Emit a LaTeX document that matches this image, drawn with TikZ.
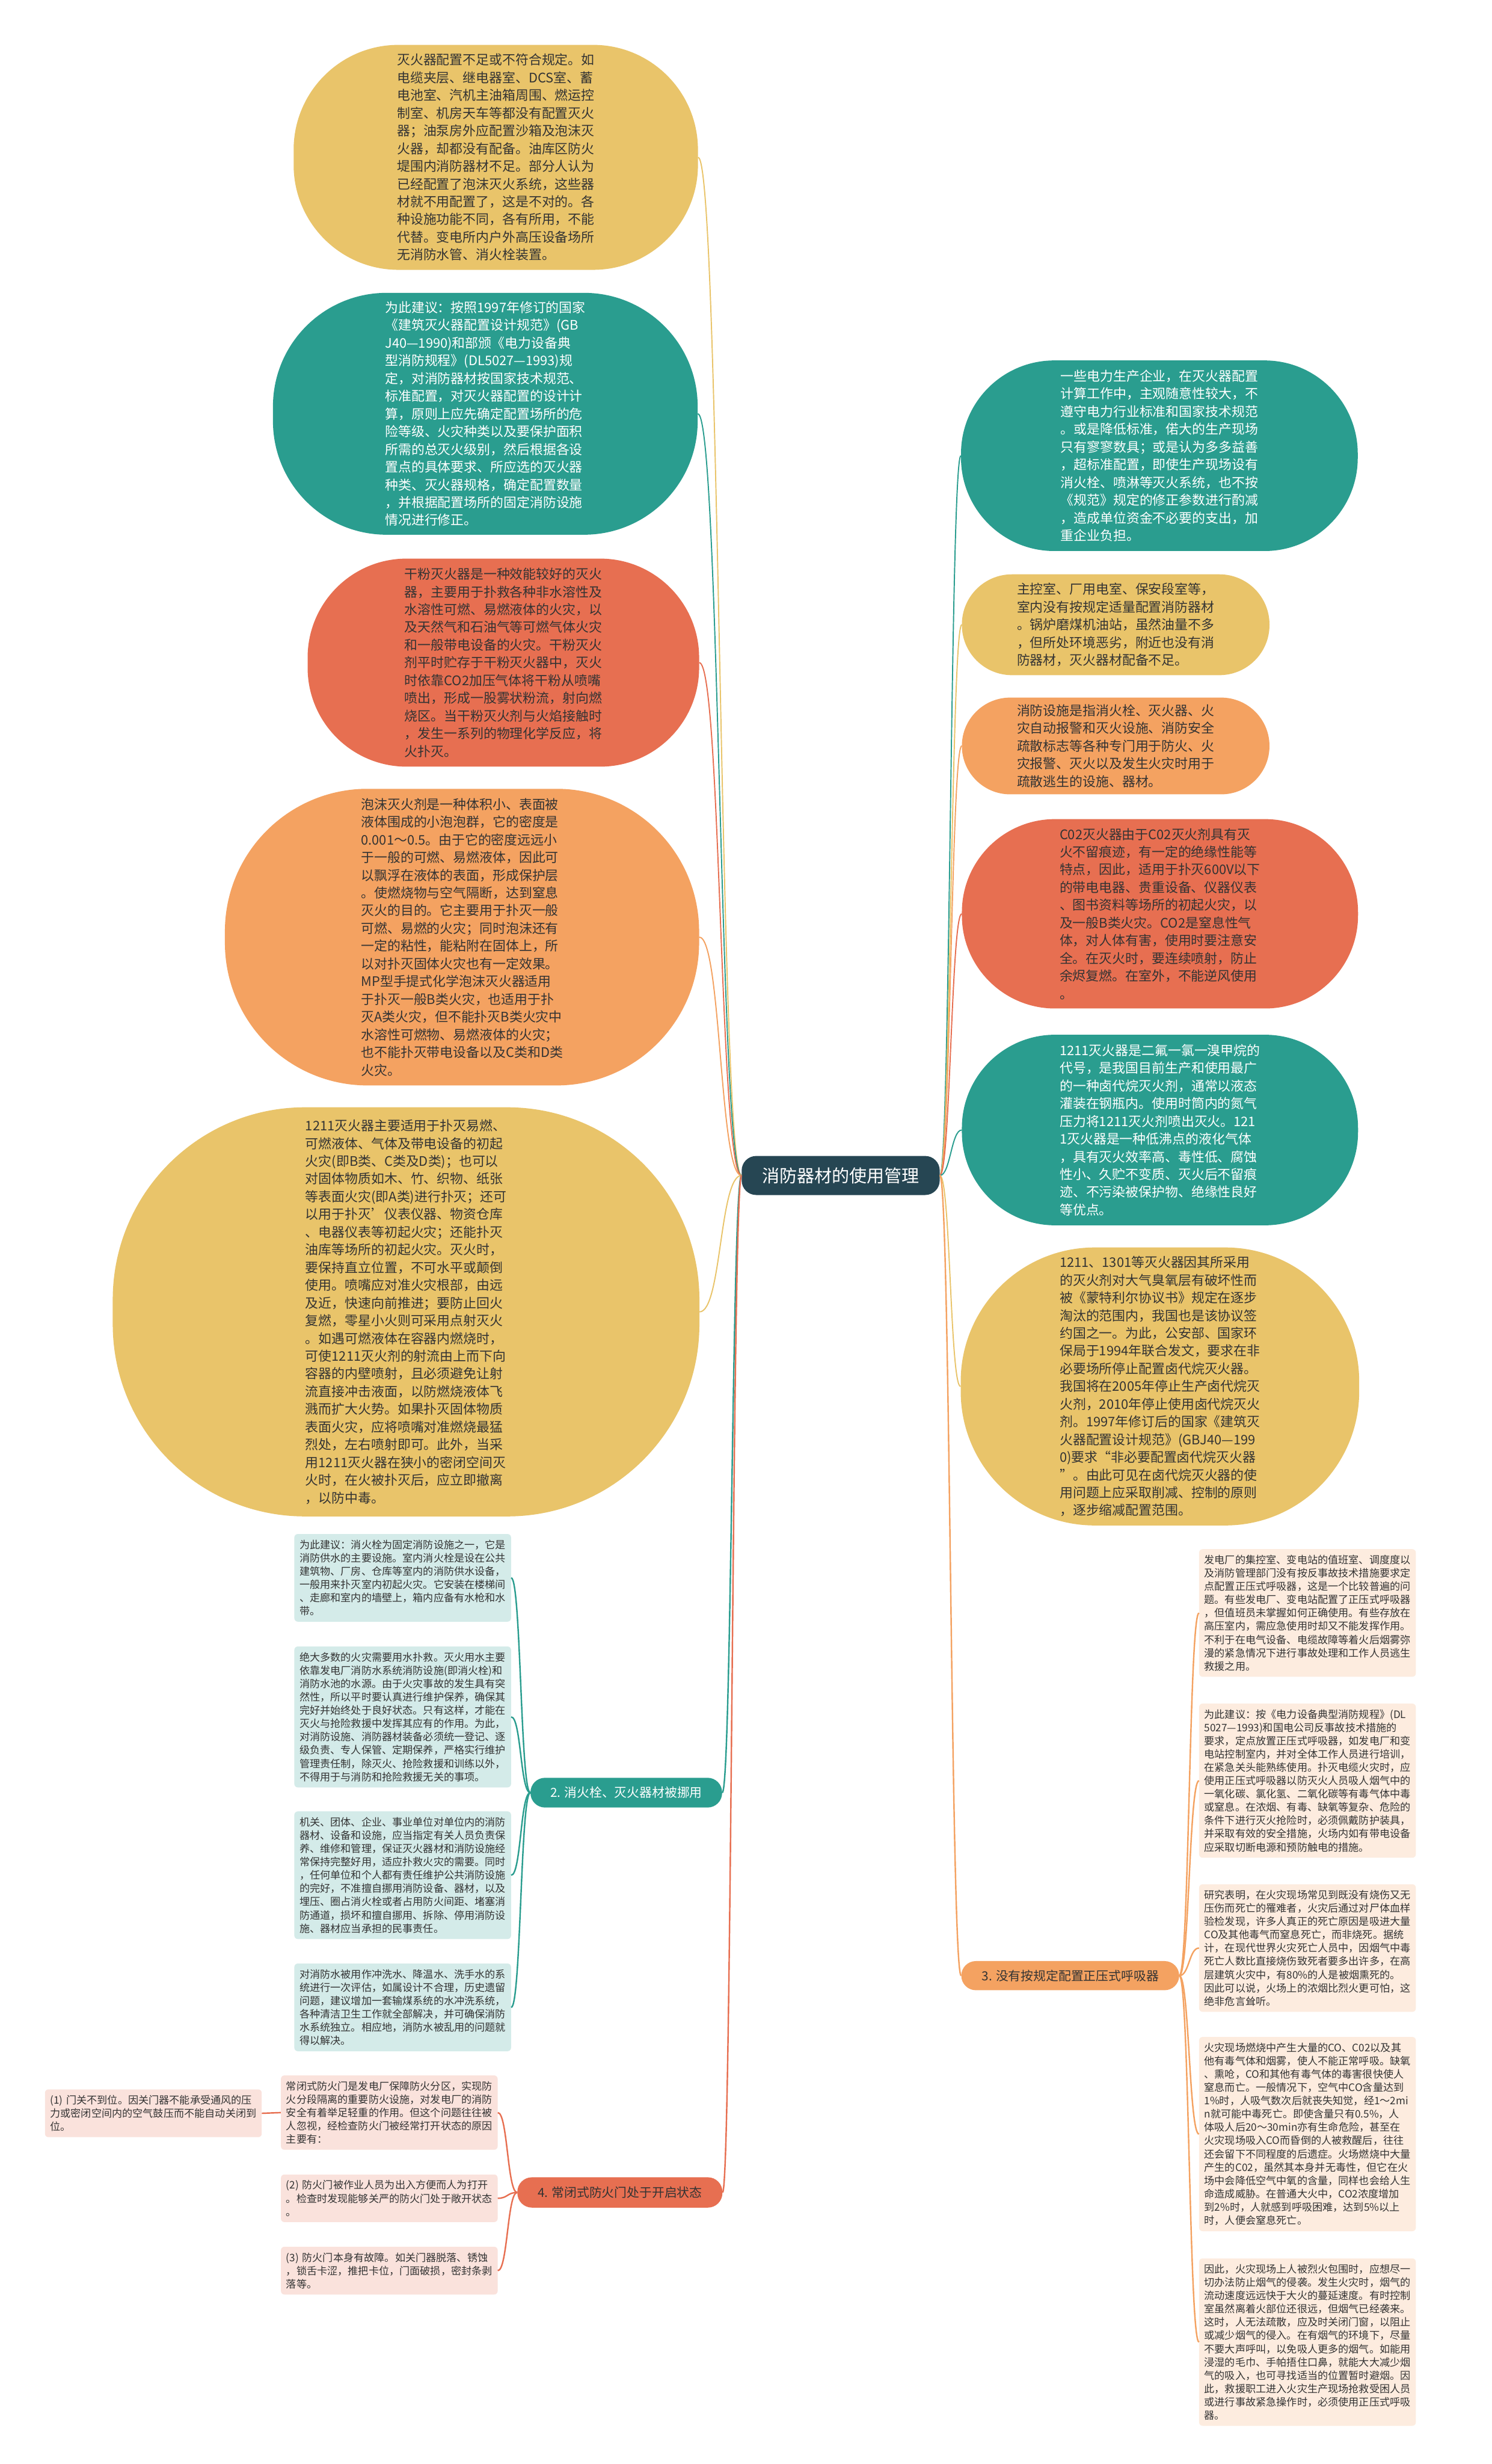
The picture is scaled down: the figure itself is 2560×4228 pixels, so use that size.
\documentclass[tikz,border=0pt]{standalone}
\usepackage{fontspec}
\setmainfont{Noto Sans CJK SC}
\definecolor{cyel}{HTML}{E9C46A}
\definecolor{cteal}{HTML}{2A9D8F}
\definecolor{cred}{HTML}{E76F51}
\definecolor{corg}{HTML}{F4A261}
\definecolor{cdark}{HTML}{264653}
\definecolor{ink}{HTML}{333333}
\begin{document}
\begin{tikzpicture}[x=1pt,y=-1pt,
  bub/.style={inner sep=0pt,align=left,text=ink,font=\fontsize{22.6}{30.4}\selectfont},
  leaf/.style={anchor=north west,text width=354pt,inner xsep=9pt,inner ysep=10pt,rounded corners=6pt,align=left,text=ink,font=\fontsize{17.7}{22.8}\selectfont},
  topic/.style={rounded corners=25pt,inner sep=0pt,font=\fontsize{21.5}{26}\selectfont},
  link/.style={line width=2pt},
  twig/.style={line width=2.5pt}]
\fill[white] (0,0) rectangle (2560,4228);
\node[topic,fill=cdark,text=white,minimum width=340pt,minimum height=67pt,font=\fontsize{30}{36}\selectfont] (root) at (1443,2017) {消防器材的使用管理};
\node[bub,fill=cyel,minimum width=694pt,minimum height=386pt,rounded corners=180pt] (lack) at (851,270) {灭火器配置不足或不符合规定。如\\电缆夹层、继电器室、DCS室、蓄\\电池室、汽机主油箱周围、燃运控\\制室、机房天车等都没有配置灭火\\器；油泵房外应配置沙箱及泡沫灭\\火器，却都没有配备。油库区防火\\堤围内消防器材不足。部分人认为\\已经配置了泡沫灭火系统，这些器\\材就不用配置了，这是不对的。各\\种设施功能不同，各有所用，不能\\代替。变电所内户外高压设备场所\\无消防水管、消火栓装置。};
\node[bub,fill=cteal,text=white,minimum width=729pt,minimum height=415pt,rounded corners=195pt] (advice) at (833,710) {为此建议：按照1997年修订的国家\\《建筑灭火器配置设计规范》(GB\\J40—1990)和部颁《电力设备典\\型消防规程》(DL5027—1993)规\\定，对消防器材按国家技术规范、\\标准配置，对灭火器配置的设计计\\算，原则上应先确定配置场所的危\\险等级、火灾种类以及要保护面积\\所需的总灭火级别，然后根据各设\\置点的具体要求、所应选的灭火器\\种类、灭火器规格，确定配置数量\\，并根据配置场所的固定消防设施\\情况进行修正。};
\node[bub,fill=cred,minimum width=672pt,minimum height=357pt,rounded corners=170pt] (powder) at (864,1137) {干粉灭火器是一种效能较好的灭火\\器，主要用于扑救各种非水溶性及\\水溶性可燃、易燃液体的火灾，以\\及天然气和石油气等可燃气体火灾\\和一般带电设备的火灾。干粉灭火\\剂平时贮存于干粉灭火器中，灭火\\时依靠CO2加压气体将干粉从喷嘴\\喷出，形成一股雾状粉流，射向燃\\烧区。当干粉灭火剂与火焰接触时\\，发生一系列的物理化学反应，将\\火扑灭。};
\node[bub,fill=corg,minimum width=814pt,minimum height=509pt,rounded corners=245pt] (foam) at (793,1608) {泡沫灭火剂是一种体积小、表面被\\液体围成的小泡泡群，它的密度是\\0.001～0.5。由于它的密度远远小\\于一般的可燃、易燃液体，因此可\\以飘浮在液体的表面，形成保护层\\。使燃烧物与空气隔断，达到窒息\\灭火的目的。它主要用于扑灭一般\\可燃、易燃的火灾；同时泡沫还有\\一定的粘性，能粘附在固体上，所\\以对扑灭固体火灾也有一定效果。\\MP型手提式化学泡沫灭火器适用\\于扑灭一般B类火灾，也适用于扑\\灭A类火灾，但不能扑灭B类火灾中\\水溶性可燃物、易燃液体的火灾；\\也不能扑灭带电设备以及C类和D类\\火灾。};
\node[bub,fill=cyel,minimum width=1007pt,minimum height=702pt,rounded corners=330pt] (halon) at (697,2251) {1211灭火器主要适用于扑灭易燃、\\可燃液体、气体及带电设备的初起\\火灾(即B类、C类及D类)；也可以\\对固体物质如木、竹、织物、纸张\\等表面火灾(即A类)进行扑灭；还可\\以用于扑灭’仪表仪器、物资仓库\\、电器仪表等初起火灾；还能扑灭\\油库等场所的初起火灾。灭火时，\\要保持直立位置，不可水平或颠倒\\使用。喷嘴应对准火灾根部，由远\\及近，快速向前推进；要防止回火\\复燃，零星小火则可采用点射灭火\\。如遇可燃液体在容器内燃烧时，\\可使1211灭火剂的射流由上而下向\\容器的内壁喷射，且必须避免让射\\流直接冲击液面，以防燃烧液体飞\\溅而扩大火势。如果扑灭固体物质\\表面火灾，应将喷嘴对准燃烧最猛\\烈处，左右喷射即可。此外，当采\\用1211灭火器在狭小的密闭空间灭\\火时，在火被扑灭后，应立即撤离\\，以防中毒。};
\node[bub,fill=cteal,text=white,minimum width=681pt,minimum height=327pt,rounded corners=160pt] (quota) at (1990,782) {一些电力生产企业，在灭火器配置\\计算工作中，主观随意性较大，不\\遵守电力行业标准和国家技术规范\\。或是降低标准，偌大的生产现场\\只有寥寥数具；或是认为多多益善\\，超标准配置，即使生产现场设有\\消火栓、喷淋等灭火系统，也不按\\《规范》规定的修正参数进行酌减\\，造成单位资金不必要的支出，加\\重企业负担。};
\node[bub,fill=cyel,minimum width=528pt,minimum height=173pt,rounded corners=86pt] (room) at (1915,1072) {主控室、厂用电室、保安段室等，\\室内没有按规定适量配置消防器材\\。锅炉磨煤机油站，虽然油量不多\\，但所处环境恶劣，附近也没有消\\防器材，灭火器材配备不足。};
\node[bub,fill=corg,minimum width=528pt,minimum height=166pt,rounded corners=83pt] (facility) at (1915,1280) {消防设施是指消火栓、灭火器、火\\灾自动报警和灭火设施、消防安全\\疏散标志等各种专门用于防火、火\\灾报警、灭火以及发生火灾时用于\\疏散逃生的设施、器材。};
\node[bub,fill=cred,minimum width=680pt,minimum height=325pt,rounded corners=160pt] (carbon) at (1991,1568) {C02灭火器由于C02灭火剂具有灭\\火不留痕迹，有一定的绝缘性能等\\特点，因此，适用于扑灭600V以下\\的带电电器、贵重设备、仪器仪表\\、图书资料等场所的初起火灾，以\\及一般B类火灾。CO2是窒息性气\\体，对人体有害，使用时要注意安\\全。在灭火时，要连续喷射，防止\\余烬复燃。在室外，不能逆风使用\\。};
\node[bub,fill=cteal,text=white,minimum width=680pt,minimum height=327pt,rounded corners=160pt] (bromo) at (1991,1939) {1211灭火器是二氟一氯一溴甲烷的\\代号，是我国目前生产和使用最广\\的一种卤代烷灭火剂，通常以液态\\灌装在钢瓶内。使用时筒内的氮气\\压力将1211灭火剂喷出灭火。121\\1灭火器是一种低沸点的液化气体\\，具有灭火效率高、毒性低、腐蚀\\性小、久贮不变质、灭火后不留痕\\迹、不污染被保护物、绝缘性良好\\等优点。};
\node[bub,fill=cyel,minimum width=684pt,minimum height=477pt,rounded corners=230pt] (phase) at (1991,2379) {1211、1301等灭火器因其所采用\\的灭火剂对大气臭氧层有破坏性而\\被《蒙特利尔协议书》规定在逐步\\淘汰的范围内，我国也是该协议签\\约国之一。为此，公安部、国家环\\保局于1994年联合发文，要求在非\\必要场所停止配置卤代烷灭火器。\\我国将在2005年停止生产卤代烷灭\\火剂，2010年停止使用卤代烷灭火\\剂。1997年修订后的国家《建筑灭\\火器配置设计规范》(GBJ40—199\\0)要求“非必要配置卤代烷灭火器\\”。由此可见在卤代烷灭火器的使\\用问题上应采取削减、控制的原则\\，逐步缩减配置范围。};
\node[topic,fill=cteal,text=white,minimum width=329pt,minimum height=51pt] (hydrant) at (1075,3076) {2. 消火栓、灭火器材被挪用};
\node[topic,fill=corg,text=ink,minimum width=374pt,minimum height=50pt] (mask) at (1837,3390) {3. 没有按规定配置正压式呼吸器};
\node[topic,fill=cred,text=ink,minimum width=352pt,minimum height=52pt] (door) at (1064,3762) {4. 常闭式防火门处于开启状态};
\node[leaf,fill=cteal!20] (hyd1) at (505,2632) {为此建议：消火栓为固定消防设施之一，它是\\消防供水的主要设施。室内消火栓是设在公共\\建筑物、厂房、仓库等室内的消防供水设备，\\一般用来扑灭室内初起火灾。它安装在楼梯间\\、走廊和室内的墙壁上，箱内应备有水枪和水\\带。};
\node[leaf,fill=cteal!20] (hyd2) at (505,2825) {绝大多数的火灾需要用水扑救。灭火用水主要\\依靠发电厂消防水系统消防设施(即消火栓)和\\消防水池的水源。由于火灾事故的发生具有突\\然性，所以平时要认真进行维护保养，确保其\\完好并始终处于良好状态。只有这样，才能在\\灭火与抢险救援中发挥其应有的作用。为此，\\对消防设施、消防器材装备必须统一登记、逐\\级负责、专人保管、定期保养，严格实行维护\\管理责任制，除灭火、抢险救援和训练以外，\\不得用于与消防和抢险救援无关的事项。};
\node[leaf,fill=cteal!20] (hyd3) at (505,3108) {机关、团体、企业、事业单位对单位内的消防\\器材、设备和设施，应当指定有关人员负责保\\养、维修和管理，保证灭火器材和消防设施经\\常保持完整好用，适应扑救火灾的需要。同时\\，任何单位和个人都有责任维护公共消防设施\\的完好，不准擅自挪用消防设备、器材，以及\\埋压、圈占消火栓或者占用防火间距、堵塞消\\防通道，损坏和擅自挪用、拆除、停用消防设\\施、器材应当承担的民事责任。};
\node[leaf,fill=cteal!20] (hyd4) at (505,3369) {对消防水被用作冲洗水、降温水、洗手水的系\\统进行一次评估，如属设计不合理，历史遗留\\问题，建议增加一套输煤系统的水冲洗系统，\\各种清洁卫生工作就全部解决，并可确保消防\\水系统独立。相应地，消防水被乱用的问题就\\得以解决。};
\node[leaf,fill=cred!20] (door0) at (482,3561) {常闭式防火门是发电厂保障防火分区，实现防\\火分段隔离的重要防火设施，对发电厂的消防\\安全有着举足轻重的作用。但这个问题往往被\\人忽视，经检查防火门被经常打开状态的原因\\主要有：};
\node[leaf,fill=cred!20] (door1) at (77,3585) {(1) 门关不到位。因关门器不能承受通风的压\\力或密闭空间内的空气鼓压而不能自动关闭到\\位。};
\node[leaf,fill=cred!20] (door2) at (482,3731) {(2) 防火门被作业人员为出入方便而人为打开\\。检查时发现能够关严的防火门处于敞开状态\\。};
\node[leaf,fill=cred!20] (door3) at (482,3855) {(3) 防火门本身有故障。如关门器脱落、锈蚀\\，锁舌卡涩，推把卡位，门面破损，密封条剥\\落等。};
\node[leaf,fill=corg!20] (mask1) at (2058,2658) {发电厂的集控室、变电站的值班室、调度度以\\及消防管理部门没有按反事故技术措施要求定\\点配置正压式呼吸器，这是一个比较普遍的问\\题。有些发电厂、变电站配置了正压式呼吸器\\，但值班员未掌握如何正确使用。有些存放在\\高压室内，需应急使用时却又不能发挥作用。\\不利于在电气设备、电缆故障等着火后烟雾弥\\漫的紧急情况下进行事故处理和工作人员逃生\\救援之用。};
\node[leaf,fill=corg!20] (mask2) at (2058,2923) {为此建议：按《电力设备典型消防规程》(DL\\5027—1993)和国电公司反事故技术措施的\\要求，定点放置正压式呼吸器，如发电厂和变\\电站控制室内，并对全体工作人员进行培训，\\在紧急关头能熟练使用。扑灭电缆火灾时，应\\使用正压式呼吸器以防灭火人员吸人烟气中的\\一氧化碳、氯化氢、二氧化碳等有毒气体中毒\\或窒息。在浓烟、有毒、缺氧等复杂、危险的\\条件下进行灭火抢险时，必须佩戴防护装具，\\并采取有效的安全措施，火场内如有带电设备\\应采取切断电源和预防触电的措施。};
\node[leaf,fill=corg!20] (mask3) at (2058,3233) {研究表明，在火灾现场常见到既没有烧伤又无\\压伤而死亡的罹难者，火灾后通过对尸体血样\\验检发现，许多人真正的死亡原因是吸进大量\\CO及其他毒气而窒息死亡，而非烧死。据统\\计，在现代世界火灾死亡人员中，因烟气中毒\\死亡人数比直接烧伤致死者要多出许多，在高\\层建筑火灾中，有80\%的人是被烟熏死的。\\因此可以说，火场上的浓烟比烈火更可怕，这\\绝非危言耸听。};
\node[leaf,fill=corg!20] (mask4) at (2058,3495) {火灾现场燃烧中产生大量的CO、C02以及其\\他有毒气体和烟雾，使人不能正常呼吸。缺氧\\、熏呛，CO和其他有毒气体的毒害很快使人\\窒息而亡。一般情况下，空气中CO含量达到\\1\%时，人吸气数次后就丧失知觉，经1～2mi\\n就可能中毒死亡。即使含量只有0.5\%，人\\体吸人后20～30min亦有生命危险，甚至在\\火灾现场吸入CO而昏倒的人被救醒后，往往\\还会留下不同程度的后遗症。火场燃烧中大量\\产生的C02，虽然其本身并无毒性，但它在火\\场中会降低空气中氧的含量，同样也会给人生\\命造成威胁。在普通大火中，CO2浓度增加\\到2\%时，人就感到呼吸困难，达到5\%以上\\时，人便会窒息死亡。};
\node[leaf,fill=corg!20] (mask5) at (2058,3875) {因此，火灾现场上人被烈火包围时，应想尽一\\切办法防止烟气的侵袭。发生火灾时，烟气的\\流动速度远远快于大火的蔓延速度。有时控制\\室虽然离着火部位还很远，但烟气已经袭来。\\这时，人无法疏散，应及时关闭门窗，以阻止\\或减少烟气的侵入。在有烟气的环境下，尽量\\不要大声呼叫，以免吸人更多的烟气。如能用\\浸湿的毛巾、手帕捂住口鼻，就能大大减少烟\\气的吸入，也可寻找适当的位置暂时避烟。因\\此，救援职工进入火灾生产现场抢救受困人员\\或进行事故紧急操作时，必须使用正压式呼吸\\器。};
\draw[link,cyel] (lack.east) .. controls +(38,0) and +(-38,0) .. (root.west);
\draw[link,cteal] (advice.east) .. controls +(38,0) and +(-38,0) .. (root.west);
\draw[link,cred] (powder.east) .. controls +(38,0) and +(-38,0) .. (root.west);
\draw[link,corg] (foam.east) .. controls +(38,0) and +(-38,0) .. (root.west);
\draw[link,cyel] (halon.east) .. controls +(38,0) and +(-38,0) .. (root.west);
\draw[link,cteal] (root.east) .. controls +(18,0) and +(-18,0) .. (quota.west);
\draw[link,cyel] (root.east) .. controls +(18,0) and +(-18,0) .. (room.west);
\draw[link,corg] (root.east) .. controls +(18,0) and +(-18,0) .. (facility.west);
\draw[link,cred] (root.east) .. controls +(18,0) and +(-18,0) .. (carbon.west);
\draw[link,cteal] (root.east) .. controls +(18,0) and +(-18,0) .. (bromo.west);
\draw[link,cyel] (root.east) .. controls +(18,0) and +(-18,0) .. (phase.west);
\draw[twig,cteal] (root.west) .. controls +(-16,0) and +(16,0) .. (hydrant.east);
\draw[twig,cred] (root.west) .. controls +(-16,0) and +(16,0) .. (door.east);
\draw[twig,corg] (root.east) .. controls +(18,0) and +(-18,0) .. (mask.west);
\foreach \n in {hyd1,hyd2,hyd3,hyd4}
  \draw[twig,cteal] (hydrant.west) .. controls +(-17,0) and +(17,0) .. (\n.east);
\foreach \n in {door0,door2,door3}
  \draw[twig,cred] (door.west) .. controls +(-17,0) and +(17,0) .. (\n.east);
\draw[twig,cred] (door0.west) -- (door1.east);
\foreach \n in {mask1,mask2,mask3,mask4,mask5}
  \draw[twig,corg] (mask.east) .. controls +(17,0) and +(-17,0) .. (\n.west);
\end{tikzpicture}
\end{document}
